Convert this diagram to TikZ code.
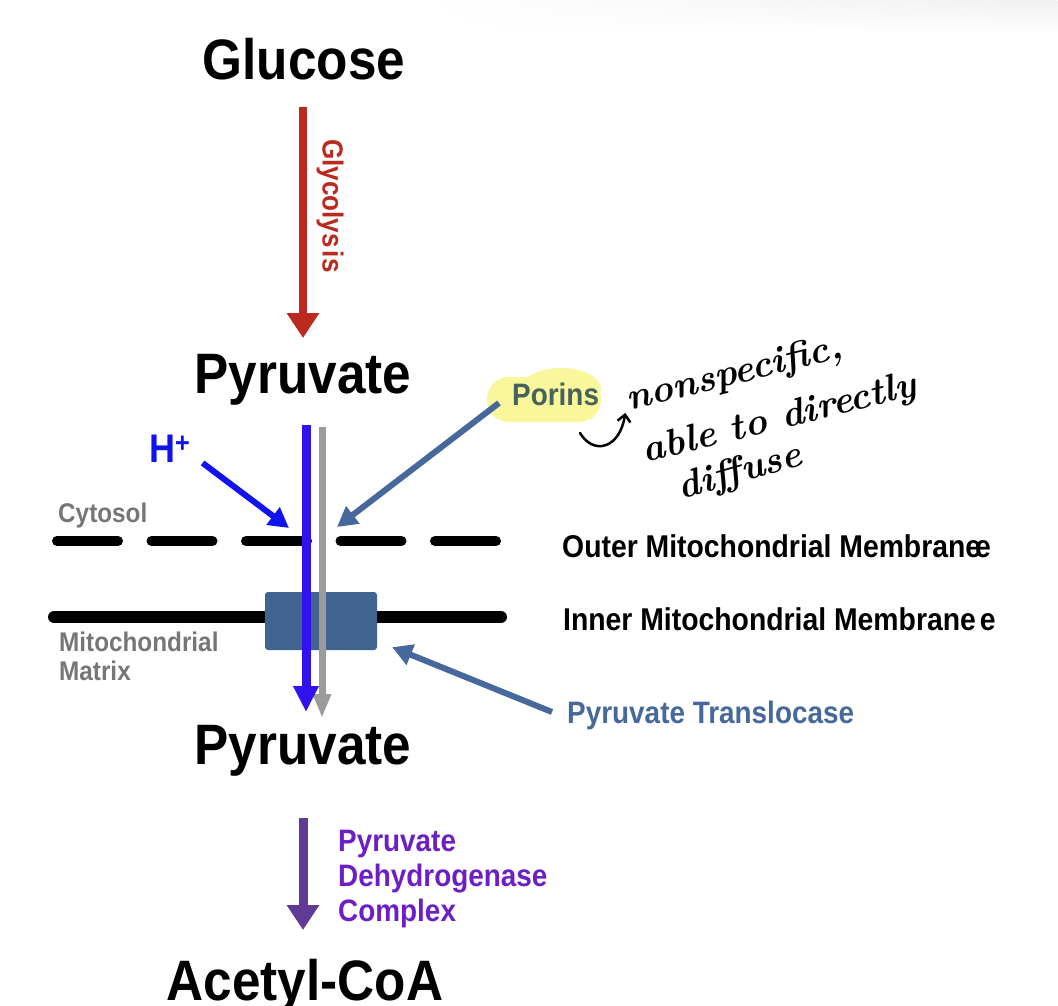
\documentclass[tikz,border=0pt]{standalone}
\usepackage{fontspec}
\newfontfamily\nar{Liberation Sans}[FakeStretch=0.9]
\usetikzlibrary{arrows.meta,calc,fadings}
\definecolor{glyred}{HTML}{BC2A1F}
\definecolor{hblue}{HTML}{1212F0}
\definecolor{lblue}{HTML}{3012EE}
\definecolor{lgray}{HTML}{9B9B9B}
\definecolor{steel}{HTML}{46689B}
\definecolor{boxc}{HTML}{40638F}
\definecolor{purarr}{HTML}{5F3B93}
\definecolor{purtxt}{HTML}{6B1FC4}
\definecolor{labgray}{HTML}{767676}
\definecolor{hlyel}{RGB}{250,246,155}
\definecolor{portxt}{HTML}{45635B}
\tikzset{
  big/.style={font=\nar\bfseries\fontsize{57}{57}\selectfont, inner sep=0pt, anchor=base},
  glylab/.style={font=\nar\bfseries\fontsize{29}{29}\selectfont, text=glyred, inner sep=0pt},
  memlab/.style={font=\nar\bfseries\fontsize{31.5}{31.5}\selectfont, inner sep=0pt, anchor=base west},
  graylab/.style={font=\nar\bfseries\fontsize{27}{27}\selectfont, text=labgray, inner sep=0pt, anchor=base west},
  bluelab/.style={font=\nar\bfseries\fontsize{31}{31}\selectfont, text=steel, inner sep=0pt, anchor=base west},
  hand/.style={font=\bfseries\itshape\fontsize{38}{38}\selectfont, inner sep=0pt, anchor=base},
  redarr/.style={draw=glyred, line width=8pt, -{Triangle[width=31pt,length=25pt]}},
  purarrow/.style={draw=purarr, line width=9pt, -{Triangle[width=31pt,length=25pt]}},
  bluearr/.style={draw=lblue, line width=9pt, -{Triangle[width=24pt,length=26pt]}},
  grayarr/.style={draw=lgray, line width=7pt, -{Triangle[width=17pt,length=24pt]}},
  thinarr/.style={line width=6pt, -{Triangle[width=21pt,length=20pt]}},
  outermem/.style={line width=10pt, line cap=round, dash pattern=on 61pt off 33.5pt},
  innermem/.style={line width=12pt, line cap=round},
}
\begin{document}
\begin{tikzpicture}[x=1pt,y=-1pt]
\useasboundingbox (0,0) rectangle (1058,1006);
\shade[top color=black!6, bottom color=white, path fading=west] (420,0) rectangle (1058,34);

% main compounds
\node[big] (glu) at (304,80) {Glucose};
\node[big] (pyr1) at (303,393) {Pyruvate};
\node[big] (pyr2) at (303,764) {Pyruvate};
\node[big] (acoa) at (305,1000) {Acetyl-CoA};

% glycolysis
\draw[redarr] ($(glu.base)+(-1,27)$) -- ($(pyr1.base)+(0,-55)$);
\node[glylab, rotate=-90] (gly) at (330,206) {Glycolys\kern3pt is};

% membranes
\draw[outermem] (57,541) -- (497,541);
\draw[innermem] (54,617) -- (501,617);
\node[fill=boxc, rounded corners=3pt, minimum width=112pt, minimum height=58pt, inner sep=0pt] (box) at (321,621) {};

% labels
\node[graylab] (cyto) at (58,522) {Cytosol};
\node[graylab] (mito) at (59,651) {Mitochondrial};
\node[graylab] (matr) at (59,680) {Matrix};
\node[memlab] (oml) at (562,557) {Outer Mitochondrial Membrane\kern-6pt e};
\node[memlab] (iml) at (563,630) {Inner Mitochondrial Membrane\kern4pt e};

% transport lines
\draw[grayarr] ($(pyr1.base)+(19,34)$) -- ($(pyr2.base)+(19,-46)$);
\draw[bluearr] ($(pyr1.base)+(3,32)$) -- ($(pyr2.base)+(3,-52)$);

% H+
\node[font=\nar\bfseries\fontsize{40}{40}\selectfont, text=hblue, inner sep=0pt, anchor=base west] (hp) at (149,462) {H\textsuperscript{+}};
\coordinate (htip) at (289,528);
\draw[thinarr, draw=hblue] ($(hp.base east)+(12,1)$) -- (htip);

% porins
\fill[hlyel, rounded corners=22pt] (487,377) rectangle (601,422);
\fill[hlyel] (561,389) ellipse [x radius=40pt, y radius=21pt];
\node[bluelab, text=portxt] (por) at (512,405) {Porins};
\coordinate (ptip) at (337,527);
\draw[thinarr, draw=steel] ($(por.base west)+(-13,-2)$) -- (ptip);

% translocase
\node[bluelab] (tl) at (567,723) {Pyruvate Translocase};
\draw[thinarr, draw=steel] ($(tl.base west)+(-15,-11)$) -- ($(box.south east)+(15,-3)$);

% PDH
\draw[purarrow] ($(pyr2.base)+(0,54)$) -- ($(acoa.base)+(-2,-70)$);
\node[font=\nar\bfseries\fontsize{31}{35}\selectfont, text=purtxt, align=left, anchor=north west, inner sep=0pt] (pdh) at (338,830) {Pyruvate\\Dehydrogenase\\Complex};

% handwriting
\node[hand, rotate=14] (h1) at (737,384) {nonspecific,};
\node[hand, rotate=14] (h2) at (782,429) {able to directly};
\node[hand, rotate=16] (h3) at (743,482) {diffuse};
\coordinate (cstart) at (580,433);
\draw[line width=2.5pt, line cap=round, -{Straight Barb[length=7pt,width=13pt]}] (cstart) .. controls (594,456) and (620,448) .. ($(h1.base west)+(-4,2)$);
\end{tikzpicture}
\end{document}
